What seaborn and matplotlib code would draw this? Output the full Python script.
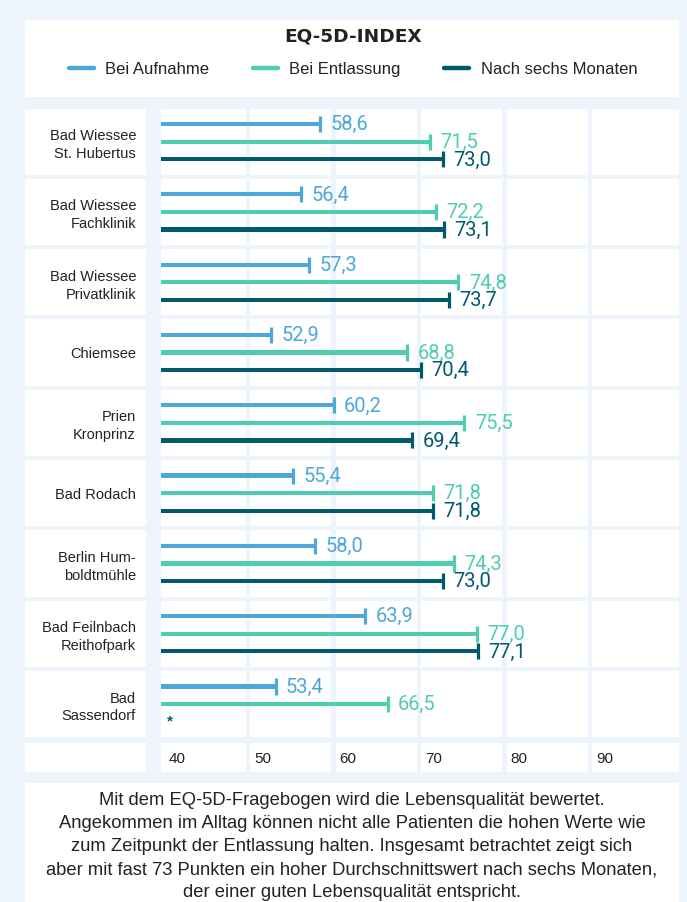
import numpy as np
import pandas as pd
import matplotlib
matplotlib.use("Agg")
import matplotlib.pyplot as plt
import matplotlib.transforms as mtransforms
from matplotlib.patches import Rectangle
from matplotlib.lines import Line2D
import seaborn as sns

# ---------------- data ----------------
kliniken = ["Bad Wiessee\nSt. Hubertus", "Bad Wiessee\nFachklinik", "Bad Wiessee\nPrivatklinik",
            "Chiemsee", "Prien\nKronprinz", "Bad Rodach", "Berlin Hum-\nboldtmühle",
            "Bad Feilnbach\nReithofpark", "Bad\nSassendorf"]
aufnahme = [58.6, 56.4, 57.3, 52.9, 60.2, 55.4, 58.0, 63.9, 53.4]
entlassung = [71.5, 72.2, 74.8, 68.8, 75.5, 71.8, 74.3, 77.0, 66.5]
sechs_monate = [73.0, 73.1, 73.7, 70.4, 69.4, 71.8, 73.0, 77.1, np.nan]
serien = ["Bei Aufnahme", "Bei Entlassung", "Nach sechs Monaten"]
x_ticks = [40, 50, 60, 70, 80, 90]
titel = "EQ-5D-INDEX"
fussnote = ("Mit dem EQ-5D-Fragebogen wird die Lebensqualität bewertet.\n"
            "Angekommen im Alltag können nicht alle Patienten die hohen Werte wie\n"
            "zum Zeitpunkt der Entlassung halten. Insgesamt betrachtet zeigt sich\n"
            "aber mit fast 73 Punkten ein hoher Durchschnittswert nach sechs Monaten,\n"
            "der einer guten Lebensqualität entspricht.")

# ---------------- style ----------------
BG = "#EDF4FB"
farben = ["#4BA8D8", "#4ECDB0", "#005A6E"]
TXT = "#222222"
sns.set_style("white")
plt.rcParams["font.family"] = ["Liberation Sans", "DejaVu Sans"]

df = pd.DataFrame({
    "Klinik": np.repeat(kliniken, 3),
    "Zeitpunkt": serien * len(kliniken),
    "Wert": np.column_stack([aufnahme, entlassung, sechs_monate]).ravel(),
})
df = df.dropna().reset_index(drop=True)

W, H = 687, 902
fig = plt.figure(figsize=(W / 100, H / 100), dpi=100, facecolor=BG)

# background (pixel coordinates)
bg = fig.add_axes([0, 0, 1, 1], zorder=0)
bg.set_xlim(0, W)
bg.set_ylim(H, 0)
bg.axis("off")

row_top = 106.5
row_h = 70.3
n = len(kliniken)
ax_left, ax_right = 161, 679
ax_bottom_px = row_top + n * row_h
ax = fig.add_axes([ax_left / W, 1 - ax_bottom_px / H, (ax_right - ax_left) / W, (n * row_h) / H], zorder=1)
ax.set_facecolor("none")

# title panel & footnote panel
bg.add_patch(Rectangle((25, 20), 654, 77, color="white", lw=0))
bg.add_patch(Rectangle((25, 783), 654, 130, color="white", lw=0))
# label column cells
for k in range(n):
    bg.add_patch(Rectangle((25, row_top + k * row_h + 2), 121, row_h - 4, color="white", lw=0))
bg.add_patch(Rectangle((25, 743), 121, 29, color="white", lw=0))

# ---------------- bars ----------------
width = 0.75
sns.barplot(data=df, y="Klinik", x="Wert", hue="Zeitpunkt", order=kliniken, hue_order=serien,
            palette=farben, saturation=1, orient="h", width=width, linewidth=0, legend=False,
            ax=ax, zorder=2)
thick = 4.2 / row_h
for p in list(ax.patches):
    c = p.get_y() + p.get_height() / 2
    p.set_y(c - thick / 2)
    p.set_height(thick)

off = width / 3
df["ypos"] = df["Klinik"].map({k: i for i, k in enumerate(kliniken)}) + \
    df["Zeitpunkt"].map({s: (i - 1) * off for i, s in enumerate(serien)})
sns.scatterplot(data=df, x="Wert", y="ypos", hue="Zeitpunkt", hue_order=serien, palette=farben,
                marker="|", s=135, linewidth=2.3, legend=False, ax=ax, zorder=3)

for _, r in df.iterrows():
    col = farben[serien.index(r["Zeitpunkt"])]
    ax.annotate(f"{r['Wert']:.1f}".replace(".", ","), (r["Wert"], r["ypos"]),
                xytext=(7.5, -0.5), textcoords="offset points", ha="left", va="center",
                color=col, fontsize=14.5, family=["Roboto", "DejaVu Sans"], zorder=4)

ax.text(40.75, n - 1 + off, "*", color=farben[2], fontsize=11, ha="left", va="center",
        fontweight="bold")

ax.set_xlim(40, 100.6)
ax.set_ylim(n - 0.5, -0.5)

# white grid cells
g = 2 / row_h
for k in range(n):
    for j, t in enumerate(x_ticks):
        x0 = t if j == 0 else t + 0.45
        x1 = t + 10 - 0.1 if j < len(x_ticks) - 1 else 100.6
        ax.add_patch(Rectangle((x0, k - 0.5 + g), x1 - x0, 1 - 2 * g, color="white", lw=0, zorder=0.5))
blend = mtransforms.blended_transform_factory(ax.transData, bg.transData)
for j, t in enumerate(x_ticks):
    x0 = t if j == 0 else t + 0.45
    x1 = t + 10 - 0.1 if j < len(x_ticks) - 1 else 100.6
    bg.add_patch(Rectangle((x0, 743), x1 - x0, 29, color="white", lw=0, transform=blend))

for s in ax.spines.values():
    s.set_visible(False)
ax.set_xlabel("")
ax.set_ylabel("")
ax.set_xticks(x_ticks)
ax.set_xticklabels([str(t) for t in x_ticks], fontsize=11, color=TXT, ha="left")
ax.tick_params(axis="x", length=0, pad=9.5)
shift = mtransforms.ScaledTranslation(7.5 / 100, 0, fig.dpi_scale_trans)
for lbl in ax.get_xticklabels():
    lbl.set_transform(lbl.get_transform() + shift)
ax.set_yticks(range(n))
ax.set_yticklabels(kliniken, fontsize=10.5, color=TXT, linespacing=1.35)
ax.tick_params(axis="y", length=0, pad=18)
for lbl in ax.get_yticklabels():
    lbl.set_multialignment("right")

# title & legend
bg.text(353, 36, titel, ha="center", va="center", fontsize=13.3, fontweight="bold",
        color=TXT, family=["DejaVu Sans"])
handles = [Line2D([0], [0], color=c, lw=3.2) for c in farben]
leg = fig.legend(handles, serien, loc="center", bbox_to_anchor=(353 / W, 1 - 69.5 / H),
                 ncol=3, frameon=False, fontsize=12, handlelength=1.5, handletextpad=0.7,
                 columnspacing=2.6, labelcolor=TXT)

bg.text(352, 846.5, fussnote, ha="center", va="center", fontsize=13.2, color=TXT,
        linespacing=1.48)

fig.savefig("out.png", dpi=100, facecolor=BG)
